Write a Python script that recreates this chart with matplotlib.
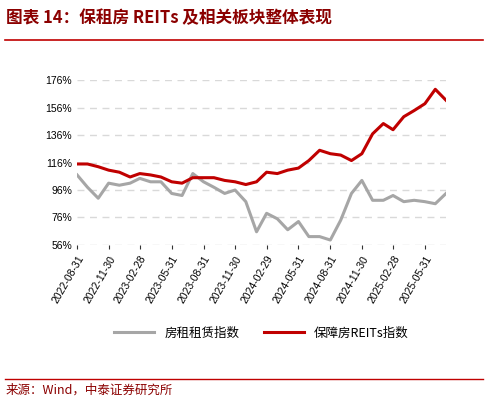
import matplotlib
matplotlib.use("Agg")
import matplotlib.pyplot as plt
import matplotlib.dates as mdates
import pandas as pd

plt.rcParams['font.family'] = ['Noto Sans CJK SC', 'DejaVu Sans']

dates = pd.date_range("2022-08-31", periods=36, freq="ME")
rent_index = [107, 98, 90, 101, 99.5, 101, 104.5, 102, 102, 93.5, 92, 108, 102, 98, 93.5, 96,
              87.5, 65.5, 79, 75, 67, 73, 62, 62, 59.5, 74, 93.5, 103, 88.5, 88.5, 92, 87.5,
              88.5, 87.5, 86, 93.5]
reits_index = [115, 115, 113, 110.5, 109, 105.5, 108, 107, 105.5, 102, 101, 105, 105, 105, 103, 102,
               100, 102, 109, 108, 110.5, 112, 117.5, 125, 122.5, 121.5, 117.5, 122.5, 137, 144.5,
               140, 149.5, 154, 159, 169.5, 161.5]
yticks = [56, 76, 96, 116, 136, 156, 176]
xticks = pd.date_range("2022-08-31", periods=12, freq="3ME")

fig = plt.figure(figsize=(4.88, 4.04), dpi=100)
fig.text(0.012, 0.955, "图表 14：保租房 REITs 及相关板块整体表现", fontsize=12, fontweight='bold',
         fontstyle='italic', color='#8B0000', va='center')
fig.add_artist(plt.Line2D([0.01, 0.99], [0.902, 0.902], color='#C00000', lw=1.2))
fig.add_artist(plt.Line2D([0.01, 0.99], [0.062, 0.062], color='#C00000', lw=1.0))
fig.text(0.012, 0.035, "来源：Wind，中泰证券研究所", fontsize=9, color='#8B0000', va='center')

ax = fig.add_axes([0.158, 0.394, 0.756, 0.407])
ax.plot(dates, rent_index, color='#A6A6A6', lw=2.2, label='房租租赁指数')
ax.plot(dates, reits_index, color='#C00000', lw=2.2, label='保障房REITs指数')
ax.set_ylim(56, 176)
ax.set_yticks(yticks)
ax.set_yticklabels([f"{v}%" for v in yticks], fontsize=7.5, family=['Liberation Sans', 'DejaVu Sans'])
ax.set_xlim(dates[0], dates[-1])
ax.set_xticks(xticks)
ax.xaxis.set_major_formatter(mdates.DateFormatter("%Y-%m-%d"))
plt.setp(ax.get_xticklabels(), rotation=60, ha='right', rotation_mode='anchor', fontsize=7.5,
         family=['Liberation Sans', 'DejaVu Sans'])
ax.grid(axis='y', color='#D9D9D9', ls=(0, (5, 4)), lw=1)
for s in ax.spines.values():
    s.set_visible(False)
ax.tick_params(axis='y', length=0)
ax.tick_params(axis='x', length=3, color='#333333')
ax.legend(loc='upper center', bbox_to_anchor=(0.5, -0.43), ncol=2, frameon=False, fontsize=9,
          handlelength=3.2, columnspacing=2)
fig.savefig("out.png", dpi=100)
